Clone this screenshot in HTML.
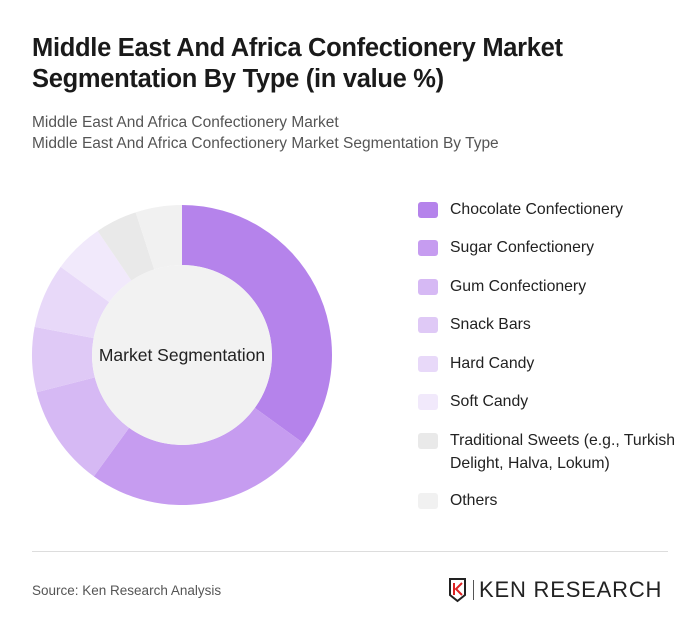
<!DOCTYPE html>
<html><head><meta charset="utf-8"><style>
body{margin:0;width:700px;height:637px;background:#fff;font-family:"Liberation Sans",sans-serif;position:relative;overflow:hidden}
.t{position:absolute;left:32px;top:33px;font-size:25.5px;font-weight:bold;color:#1a1a1a;line-height:31px;letter-spacing:-0.3px}
.s{position:absolute;left:32px;top:112px;font-size:15.5px;color:#555;line-height:21px}
.leg{position:absolute;left:418px;font-size:15.8px;color:#222;line-height:23px}
.sw{position:absolute;left:418px;width:20px;height:16px;border-radius:3px}
</style></head><body>
<div class="t">Middle East And Africa Confectionery Market<br>Segmentation By Type (in value %)</div>
<div class="s">Middle East And Africa Confectionery Market<br>Middle East And Africa Confectionery Market Segmentation By Type</div>
<svg id="donut" width="700" height="637" style="position:absolute;left:0;top:0"></svg>
<div id="legend"></div>
<div style="position:absolute;left:32px;top:551px;width:636px;height:1px;background:#ddd"></div>
<div style="position:absolute;left:32px;top:583px;font-size:13.5px;color:#555">Source: Ken Research Analysis</div>
<div style="position:absolute;left:448px;top:576px;height:28px;display:flex;align-items:center">
<svg width="20" height="26"><path d="M2 2h15v16l-7.5 6L2 18z" fill="none" stroke="#222" stroke-width="2"/><path d="M6 6v12M14 6l-6 6 6 6" stroke="#d22" stroke-width="2" fill="none"/></svg>
<div style="width:1px;height:20px;background:#555;margin:0 5px"></div>
<span style="font-size:22px;letter-spacing:0.8px;color:#222">KEN RESEARCH</span></div>
<script>
const categories=["Chocolate Confectionery","Sugar Confectionery","Gum Confectionery","Snack Bars","Hard Candy","Soft Candy","Traditional Sweets (e.g., Turkish Delight, Halva, Lokum)","Others"];
const values=[35,25,11,7,7,5.5,4.5,5];
const colors=["#b583eb","#c69cf0","#d6b9f4","#dfc9f6","#e8d9f9","#f1e9fb","#e9e9e9","#f1f1f1"];
const cx=182,cy=355,R=150,r=90;
const svg=document.getElementById('donut');const NS="http://www.w3.org/2000/svg";
const total=values.reduce((a,b)=>a+b,0);
function pt(a,rad){return [cx+rad*Math.sin(a),cy-rad*Math.cos(a)];}
let a0=0;
values.forEach((v,i)=>{
 const a1=a0+v/total*2*Math.PI;const lg=(a1-a0)>Math.PI?1:0;
 const p0=pt(a0,R),p1=pt(a1,R),q1=pt(a1,r),q0=pt(a0,r);
 const p=document.createElementNS(NS,'path');
 p.setAttribute('d',`M${p0}A${R},${R} 0 ${lg} 1 ${p1}L${q1}A${r},${r} 0 ${lg} 0 ${q0}Z`);
 p.setAttribute('fill',colors[i]);
 
 
 svg.appendChild(p);a0=a1;
});
const c=document.createElementNS(NS,'circle');c.setAttribute('cx',cx);c.setAttribute('cy',cy);c.setAttribute('r',r);c.setAttribute('fill','#f2f2f2');


svg.appendChild(c);
const tx=document.createElementNS(NS,'text');tx.setAttribute('x',cx);tx.setAttribute('y',cy+6);tx.setAttribute('text-anchor','middle');tx.setAttribute('font-size','17.5');tx.setAttribute('fill','#222');tx.setAttribute('font-family','Liberation Sans, sans-serif');tx.textContent='Market Segmentation';


svg.appendChild(tx);
const lg=document.getElementById('legend');
const tops=[198,236,275,313,352,390,429,489];
categories.forEach((n,i)=>{
 const s=document.createElement('div');s.className='sw';s.style.top=(tops[i]+4)+'px';s.style.background=colors[i];
 
 
 lg.appendChild(s);
 const t=document.createElement('div');t.className='leg';t.style.top=tops[i]+'px';t.style.left='450px';t.style.width='235px';t.textContent=n;
 
 
 lg.appendChild(t);
});
</script>
</body></html>
